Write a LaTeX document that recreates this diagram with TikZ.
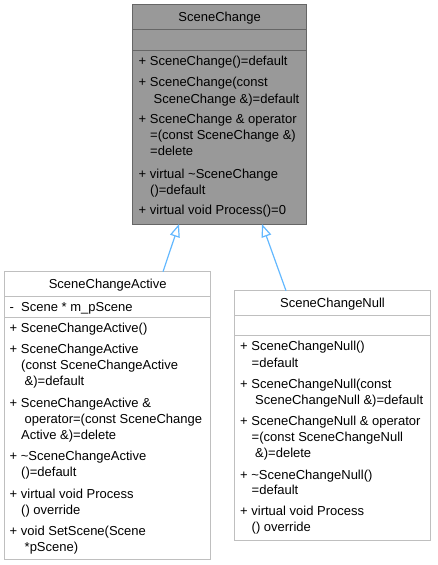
\documentclass[tikz,border=0pt]{standalone}
\usepackage{fontspec}
\setmainfont{Liberation Sans}
\usetikzlibrary{arrows.meta}
\definecolor{nodegray}{HTML}{999999}
\definecolor{bordergray}{HTML}{666666}
\definecolor{lightborder}{HTML}{BFBFBF}
\definecolor{edgeblue}{HTML}{63B8FF}
\begin{document}
\begin{tikzpicture}[x=1pt,y=-1pt,
  box/.style={draw=lightborder, line width=1pt, fill=white, anchor=north west, inner sep=0pt, outer sep=0pt},
  curbox/.style={box, draw=bordergray, fill=nodegray},
  txt/.style={anchor=base west, inner sep=0pt, font=\fontsize{13}{15}\selectfont},
  ttl/.style={anchor=base, inner sep=0pt, font=\fontsize{13}{15}\selectfont},
  sep/.style={draw=lightborder, line width=1pt},
  cursep/.style={draw=bordergray, line width=1pt},
  inherit/.style={draw=edgeblue, line width=1.2pt, -{Triangle[length=13pt,width=10pt,fill=white]}}
]
\useasboundingbox (0,0) rectangle (437,565);

% ---------- base class ----------
\node[curbox, minimum width=174.2pt, minimum height=219.7pt] (base) at (132.5,4.3) {};
\path[cursep] (base.west |- 0,29.3) -- (base.east |- 0,29.3);
\path[cursep] (base.west |- 0,50) -- (base.east |- 0,50);
\node[ttl] (b0) at (219.6,21.5) {SceneChange};
\node[txt] (b1) at (138.5,65.5) {+ SceneChange()=default};
\node[txt] (b2) at (138.5,86.5) {+ SceneChange(const};
\node[txt] (b3) at (153.5,103) {SceneChange \&)=default};
\node[txt] (b4) at (138.5,123) {+ SceneChange \& operator};
\node[txt] (b5) at (150,139) {=(const SceneChange \&)};
\node[txt] (b6) at (150,155.5) {=delete};
\node[txt] (b7) at (138.5,178) {+ virtual \textasciitilde SceneChange};
\node[txt] (b8) at (150,194) {()=default};
\node[txt] (b9) at (138.5,214.5) {+ virtual void Process()=0};

% ---------- SceneChangeActive ----------
\node[box, minimum width=206pt, minimum height=287.3pt] (active) at (4.7,271.7) {};
\path[sep] (active.west |- 0,296) -- (active.east |- 0,296);
\path[sep] (active.west |- 0,317.7) -- (active.east |- 0,317.7);
\node[ttl] (a0) at (107.7,288.8) {SceneChangeActive};
\node[txt] (a1) at (9.5,311.3) {-\ \ Scene * m\_pScene};
\node[txt] (a2) at (9.5,332.3) {+ SceneChangeActive()};
\node[txt] (a3) at (9.5,353.3) {+ SceneChangeActive};
\node[txt] (a4) at (21,369) {(const SceneChangeActive};
\node[txt] (a5) at (24.5,385.7) {\&)=default};
\node[txt] (a6) at (9.5,407.3) {+ SceneChangeActive \&};
\node[txt] (a7) at (24.5,423) {operator=(const SceneChange};
\node[txt] (a8) at (21,439) {Active \&)=delete};
\node[txt] (a9) at (9.5,460.7) {+ \textasciitilde SceneChangeActive};
\node[txt] (a10) at (21,476.3) {()=default};
\node[txt] (a11) at (9.5,498.3) {+ virtual void Process};
\node[txt] (a12) at (21,514) {() override};
\node[txt] (a13) at (9.5,535.7) {+ void SetScene(Scene};
\node[txt] (a14) at (24.5,551.7) {*pScene)};

% ---------- SceneChangeNull ----------
\node[box, minimum width=196.4pt, minimum height=250pt] (null) at (234.3,290.7) {};
\path[sep] (null.west |- 0,315) -- (null.east |- 0,315);
\path[sep] (null.west |- 0,335.7) -- (null.east |- 0,335.7);
\node[ttl] (n0) at (332.5,307.6) {SceneChangeNull};
\node[txt] (n1) at (240,350.7) {+ SceneChangeNull()};
\node[txt] (n2) at (251.5,367.3) {=default};
\node[txt] (n3) at (240,388) {+ SceneChangeNull(const};
\node[txt] (n4) at (255,404) {SceneChangeNull \&)=default};
\node[txt] (n5) at (240,425.7) {+ SceneChangeNull \& operator};
\node[txt] (n6) at (251.5,441.7) {=(const SceneChangeNull};
\node[txt] (n7) at (255,457.3) {\&)=delete};
\node[txt] (n8) at (240,479) {+ \textasciitilde SceneChangeNull()};
\node[txt] (n9) at (251.5,494.7) {=default};
\node[txt] (n10) at (240,515.7) {+ virtual void Process};
\node[txt] (n11) at (251.5,531.7) {() override};

% ---------- inheritance ----------
\draw[inherit] ([xshift=55.3pt]active.north) -- ([xshift=-40.6pt]base.south);
\draw[inherit] ([xshift=-46.5pt]null.north) -- ([xshift=42.4pt]base.south);
\end{tikzpicture}
\end{document}
